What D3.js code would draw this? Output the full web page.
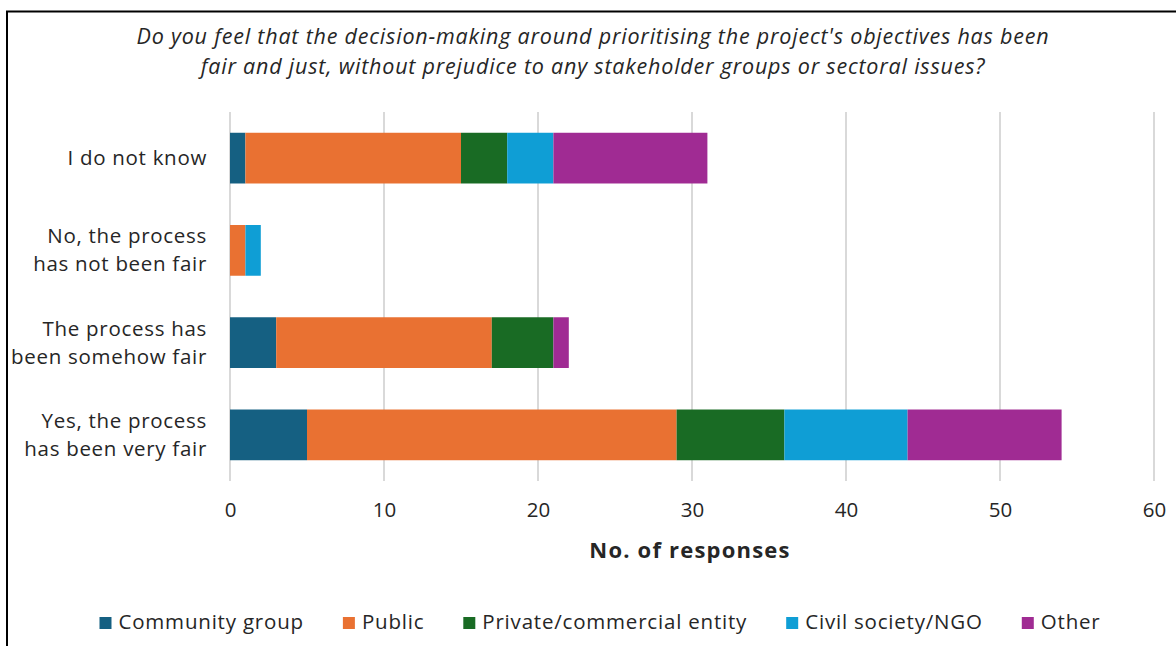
<!DOCTYPE html>
<html><head><meta charset="utf-8">
<script src="https://cdn.jsdelivr.net/npm/d3@7"></script>
<style>body{margin:0;background:#fff;} svg{display:block;} text{font-family:"Open Sans",sans-serif;fill:#262626;}</style>
</head><body>
<svg id="c" width="1176" height="646"></svg>
<script>
const titleLines = ["Do you feel that the decision-making around prioritising the project's objectives has been",
                    "fair and just, without prejudice to any stakeholder groups or sectoral issues?"];
const categories = ["I do not know", "No, the process has not been fair", "The process has been somehow fair", "Yes, the process has been very fair"];
const categoryLines = [["I do not know"], ["No, the process", "has not been fair"], ["The process has", "been somehow fair"], ["Yes, the process", "has been very fair"]];
const seriesNames = ["Community group", "Public", "Private/commercial entity", "Civil society/NGO", "Other"];
const communityGroup = [1, 0, 3, 5];
const publicSector = [14, 1, 14, 24];
const privateEntity = [3, 0, 4, 7];
const civilSociety = [3, 1, 0, 8];
const other = [10, 0, 1, 10];
const xTicks = [0, 10, 20, 30, 40, 50, 60];
const xTitle = "No. of responses";
const colors = ["#156082", "#E97132", "#196B24", "#0F9ED5", "#A02B93"];

const seriesValues = [communityGroup, publicSector, privateEntity, civilSociety, other];
const rows = categories.map((c, i) => {
  const r = {cat: c};
  seriesNames.forEach((s, j) => r[s] = seriesValues[j][i]);
  return r;
});

const svg = d3.select("#c");
// frame
svg.append("rect").attr("x", 7).attr("y", 11.5).attr("width", 1200).attr("height", 700)
  .attr("fill", "none").attr("stroke", "#000").attr("stroke-width", 2);

// title
svg.append("text").attr("x", 593).attr("y", 44).attr("text-anchor", "middle")
  .style("font-style", "italic").style("font-size", "21.5px").style("letter-spacing", "0.8px")
  .selectAll("tspan").data(titleLines).join("tspan")
  .attr("x", 593).attr("dy", (d, i) => i === 0 ? 0 : 30).text(d => d);

const x = d3.scaleLinear().domain([0, 60]).range([230, 1154]);
const y = d3.scaleBand().domain(categories).range([112, 481]).paddingInner(0.45).paddingOuter(0.225);

// gridlines
svg.append("g").selectAll("line").data(xTicks).join("line")
  .attr("x1", d => x(d)).attr("x2", d => x(d)).attr("y1", 112).attr("y2", 481)
  .attr("stroke", "#d9d9d9").attr("stroke-width", 2);

const stack = d3.stack().keys(seriesNames)(rows);
svg.append("g").selectAll("g").data(stack).join("g")
  .attr("fill", (d, i) => colors[i])
  .selectAll("rect").data(d => d).join("rect")
  .attr("x", d => x(d[0])).attr("width", d => x(d[1]) - x(d[0]))
  .attr("y", d => y(d.data.cat)).attr("height", y.bandwidth());

// x axis
const xAxis = svg.append("g").attr("transform", "translate(0,481)")
  .call(d3.axisBottom(x).tickValues(xTicks).tickSize(0).tickPadding(21));
xAxis.select(".domain").remove();
xAxis.selectAll("text").style("font-size", "20.5px").style("font-family", "'Open Sans',sans-serif").attr("fill", "#262626");

svg.append("text").attr("x", 690).attr("y", 558).attr("text-anchor", "middle")
  .style("font-weight", "bold").style("font-size", "22px").style("letter-spacing", "1.2px").attr("fill", "#111").text(xTitle);

// y labels
categories.forEach((c, i) => {
  const lines = categoryLines[i];
  const cy = y(c) + y.bandwidth() / 2;
  const t = svg.append("text").attr("text-anchor", "end").style("font-size", "20.5px").style("letter-spacing", "0.7px");
  lines.forEach((l, k) => {
    t.append("tspan").attr("x", 207).attr("y", cy + (k - (lines.length - 1) / 2) * 28 + 7).text(l);
  });
});

// legend
const lg = svg.append("g");
const items = lg.selectAll("g").data(seriesNames).join("g");
items.append("rect").attr("width", 12).attr("height", 12).attr("y", -12).attr("fill", (d, i) => colors[i]);
items.append("text").attr("x", 19).attr("y", 0).style("font-size", "20.5px").style("letter-spacing", "0.8px").text(d => d);
let xpos = 0;
items.each(function(d) {
  const w = this.getBBox().width;
  d3.select(this).attr("transform", `translate(${xpos},629)`);
  xpos += w + 39;
});
const total = xpos - 39;
lg.attr("transform", `translate(${600 - total / 2 },0)`);
</script>
</body></html>
